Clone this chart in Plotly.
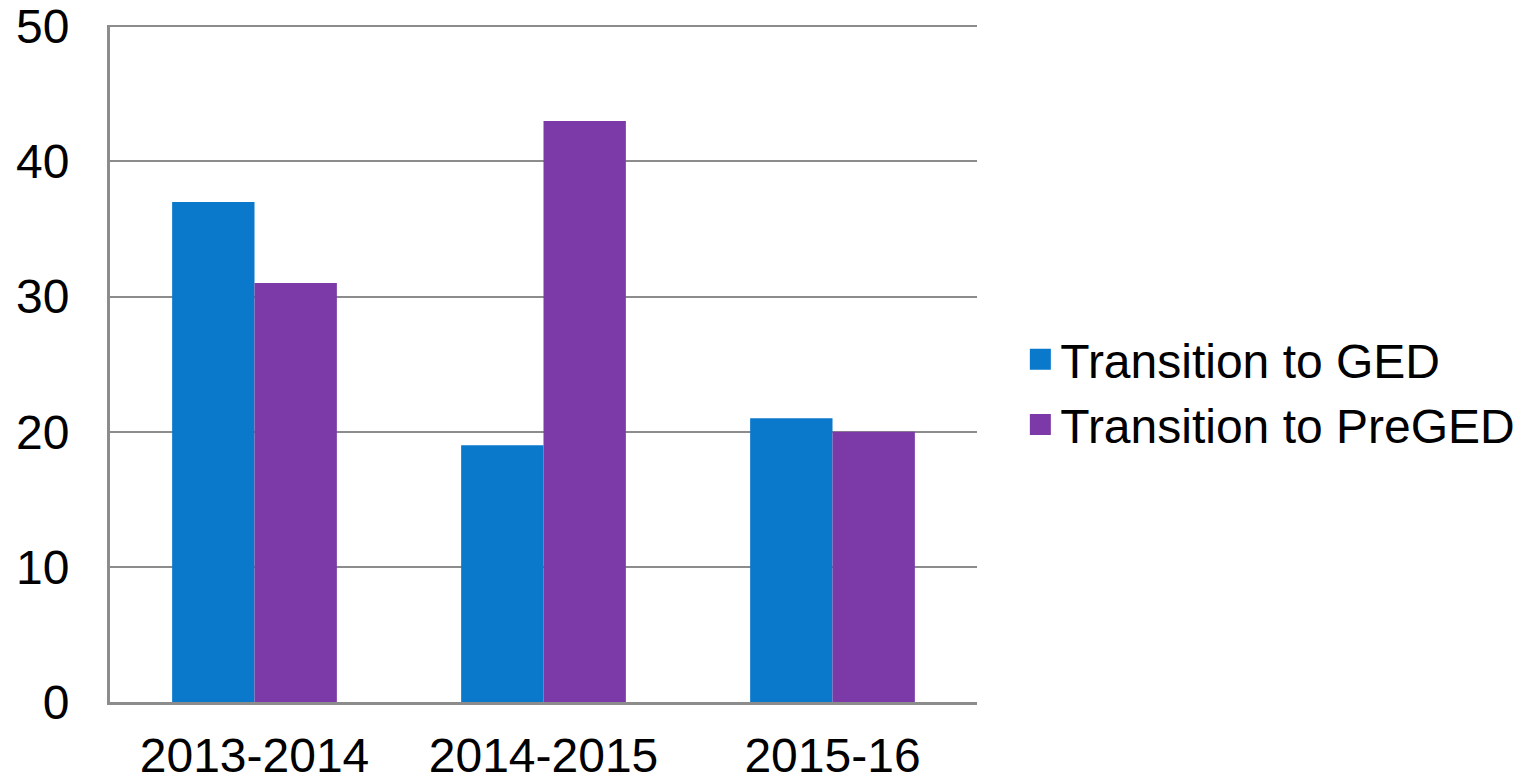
import plotly.graph_objects as go

categories = ["2013-2014", "2014-2015", "2015-16"]
ged = [37, 19, 21]
preged = [31, 43, 20]
series_names = ["Transition to GED", "Transition to PreGED"]
colors = ["#0B79CB", "#7B3AA8"]
y_ticks = [0, 10, 20, 30, 40, 50]

fig = go.Figure()
fig.add_trace(go.Bar(x=categories, y=ged, name=series_names[0], showlegend=False,
                     marker=dict(color=colors[0], line_width=0)))
fig.add_trace(go.Bar(x=categories, y=preged, name=series_names[1], showlegend=False,
                     marker=dict(color=colors[1], line_width=0)))
# legend entries with larger square swatches
for name, col in zip(series_names, colors):
    fig.add_trace(go.Scatter(x=[None], y=[None], mode="markers", name=name,
                             marker=dict(symbol="square", size=24, color=col,
                                         line=dict(color=col, width=5))))

font = dict(family="Liberation Sans, Arial, sans-serif", size=48, color="#000000")
fig.update_layout(
    width=1522, height=770,
    margin=dict(l=102, r=553, t=17, b=76, autoexpand=False),
    paper_bgcolor="white", plot_bgcolor="white",
    barmode="group", bargap=0.43, bargroupgap=0,
    font=font,
    legend=dict(x=1.05, xanchor="left", y=0.458, yanchor="middle", font=font,
                bgcolor="rgba(0,0,0,0)", tracegroupgap=0, itemsizing="trace"),
    showlegend=True,
)
fig.update_yaxes(range=[0, 50.1], tickvals=y_ticks, showgrid=True, gridcolor="#8C8C8C", gridwidth=2,
                 showline=True, linecolor="#8C8C8C", linewidth=3, zeroline=False,
                 ticks="", ticklabelstandoff=28, tickfont=font, mirror=False,
                 ticklabeloverflow="allow")
fig.update_xaxes(showline=True, linecolor="#8C8C8C", linewidth=3, ticks="",
                 ticklabelstandoff=9, tickfont=font, ticklabeloverflow="allow")
fig.write_html("out.html")
